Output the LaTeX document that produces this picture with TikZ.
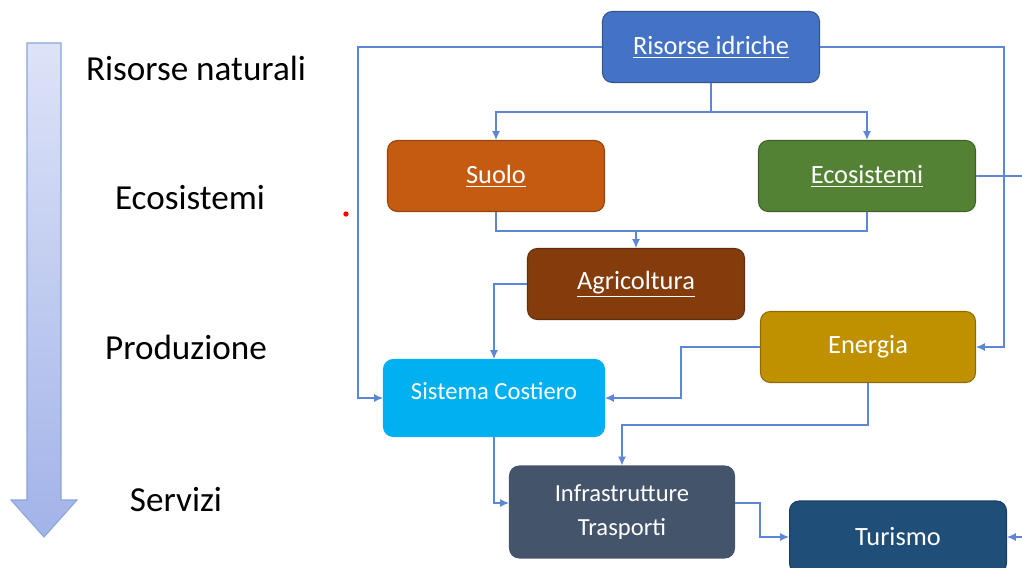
\documentclass[tikz,border=0pt]{standalone}
\usepackage{fontspec}
\setmainfont{Carlito}
\usetikzlibrary{arrows.meta}

\definecolor{cRis}{HTML}{4472C4}
\definecolor{cSuo}{HTML}{C55A11}
\definecolor{cEco}{HTML}{548235}
\definecolor{cAgr}{HTML}{843C0C}
\definecolor{cEne}{HTML}{BF9000}
\definecolor{cSis}{HTML}{00B0F0}
\definecolor{cInf}{HTML}{44546A}
\definecolor{cTur}{HTML}{1F4E79}
\definecolor{cLine}{HTML}{5B87D6}
\definecolor{arrTop}{HTML}{DDE3F7}
\definecolor{arrBot}{HTML}{A2B3E8}
\definecolor{arrEdge}{HTML}{8CA3DB}

\begin{document}
\begin{tikzpicture}[
	x=0.02cm, y=-0.02cm,
	box/.style={rectangle, rounded corners=5.5pt, minimum width=4.34cm, minimum height=1.42cm,
		inner sep=1pt, align=center, text=white, line width=0.6pt,
		font=\fontsize{15}{19}\selectfont},
	level/.style={font=\fontsize{20}{24}\selectfont},
	>={Latex[length=5pt,width=4.5pt]}
	]
	
	\clip (0,0) rectangle (1022,568);
	
	%-----------------------
	% Left: levels arrow
	%-----------------------
	\shade[top color=arrTop, bottom color=arrBot, draw=arrEdge, line width=0.6pt]
		(27,43) -- (61,43) -- (61,500) -- (77,500) -- (44,537) -- (11,500) -- (27,500) -- cycle;
	
	\node[level] (lnat) at (196,68)  {Risorse naturali};
	\node[level] (leco) at (190,198) {Ecosistemi};
	\node[level] (lpro) at (186,347) {Produzione};
	\node[level] (lser) at (176,500) {Servizi};
	
	%-----------------------
	% Row 1: water resources
	%-----------------------
	\node[box, fill=cRis, draw=cRis!75!black] (ris) at (711,47) {\underline{Risorse idriche}};
	
	%-----------------------
	% Row 2: soil, ecosystems
	%-----------------------
	\node[box, fill=cSuo, draw=cSuo!75!black] (suo) at (496,176) {\underline{Suolo}};
	\node[box, fill=cEco, draw=cEco!75!black] (eco) at (867,176) {\underline{Ecosistemi}};
	
	%-----------------------
	% Row 3: production
	%-----------------------
	\node[box, fill=cAgr, draw=cAgr!75!black] (agr) at (636,284) {\underline{Agricoltura}};
	\node[box, fill=cEne, draw=cEne!75!black, minimum width=4.3cm] (ene) at (868,347) {Energia};
	\node[box, fill=cSis, draw=cSis, minimum width=4.42cm, minimum height=1.54cm, text depth=8pt,
		font=\fontsize{14}{18}\selectfont] (sis) at (494,398) {Sistema Costiero};
	
	%-----------------------
	% Row 4: services
	%-----------------------
	\node[box, fill=cInf, draw=cInf, minimum width=4.5cm, minimum height=1.84cm,
		font=\fontsize{14}{19.5}\selectfont] (inf) at (622,512) {Infrastrutture\\Trasporti};
	\node[box, fill=cTur, draw=cTur!80!black, minimum height=1.44cm] (tur) at (898,537) {Turismo};
	
	% stray red mark
	\node[circle, fill=red, inner sep=0pt, minimum size=3pt] (dot) at (346,214) {};
	
	%-----------------------
	% Connections
	%-----------------------
	\tikzset{connect/.style={->, draw=cLine, line width=0.7pt}}
	
	% Risorse idriche -> everything
	\draw[connect] (ris.west) -- ++(-244,0) |- (sis.west);
	\draw[connect] (ris.east) -- ++(184,0) |- (ene.east);
	\draw[connect] (ris.south) -- ++(0,29) -| (suo.north);
	\draw[connect] (ris.south) -- ++(0,29) -| (eco.north);
	
	% Suolo + Ecosistemi -> Agricoltura
	\draw[connect, -] (suo.south) -- ++(0,19) -| (eco.south);
	\draw[connect] (agr.north) ++(0,-18) -- (agr.north);
	\draw[connect, -] (eco.east) -- ++(50,0);
	
	% Production -> Sistema Costiero
	\draw[connect] (agr.west) -| (sis.north);
	\draw[connect] (ene.west) -- ++(-79,0) |- (sis.east);
	
	% -> Infrastrutture
	\draw[connect] (ene.south) -- ++(0,42) -| (inf.north);
	\draw[connect] (sis.south) |- ([yshift=0.18cm]inf.west);
	
	% -> Turismo
	\draw[connect] ([yshift=0.18cm]inf.east) -- ++(25,0) |- (tur.west);
	\draw[connect] (tur.east) ++(20,0) -- (tur.east);
	
\end{tikzpicture}
\end{document}
